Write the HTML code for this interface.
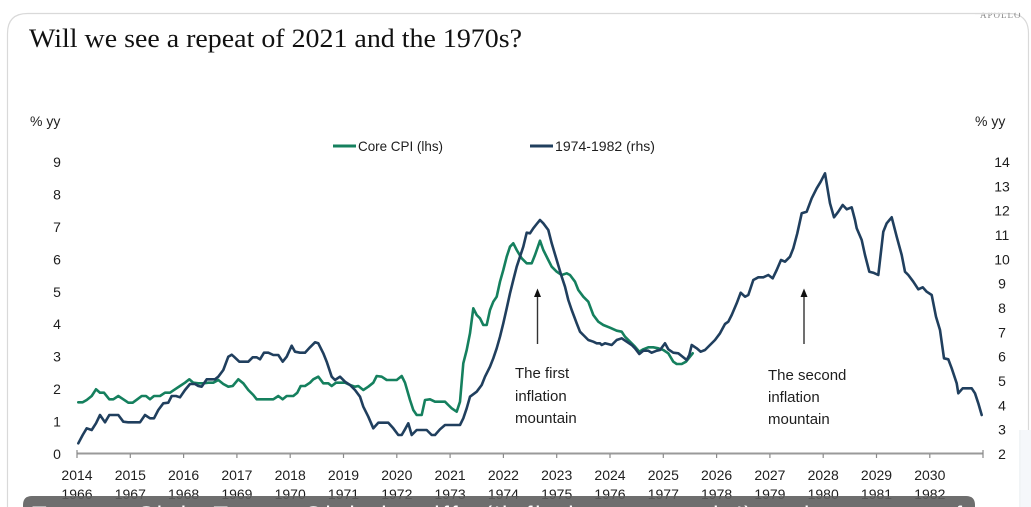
<!DOCTYPE html>
<html>
<head>
<meta charset="utf-8">
<style>
  html,body{margin:0;padding:0;background:#fff;}
  body{width:1031px;height:507px;overflow:hidden;}
  svg{display:block;}
  .ax{font-family:"Liberation Sans",sans-serif;font-size:14px;fill:#1e1e1e;}
  .ann{font-family:"Liberation Sans",sans-serif;font-size:15px;fill:#1e1e1e;}
</style>
</head>
<body>
<svg width="1031" height="507" viewBox="0 0 1031 507" xmlns="http://www.w3.org/2000/svg" overflow="hidden">
  <defs>
    <clipPath id="frame"><rect x="0" y="0" width="1031" height="507"/></clipPath>
  </defs>
  <rect x="0" y="0" width="1031" height="507" fill="#fff"/>
  <!-- card (open at bottom) -->
  <path d="M7.5,507 L7.5,33.5 Q7.5,13.5 27.5,13.5 L1008.5,13.5 Q1028.5,13.5 1028.5,33.5 L1028.5,430" fill="none" stroke="#d9d9d9" stroke-width="1.2"/>
  <line x1="1020" y1="430" x2="1020" y2="507" stroke="#e3e8ee" stroke-width="1"/>
  <rect x="1021" y="430" width="10" height="77" fill="#f5f7fa"/>
  <!-- tiny top-right text -->
  <text x="980" y="18" font-family="Liberation Serif,serif" font-size="9" fill="#8a8a8a" letter-spacing="1">APOLLO</text>
  <rect x="975" y="0" width="56" height="12.8" fill="#fff"/>
  <line x1="975" y1="13.5" x2="1008" y2="13.5" stroke="#d9d9d9" stroke-width="1.2"/>

  <!-- title -->
  <text x="29" y="47" font-family="Liberation Serif,serif" font-size="26" fill="#111" textLength="493" lengthAdjust="spacingAndGlyphs">Will we see a repeat of 2021 and the 1970s?</text>

  <!-- % yy -->
  <text x="30" y="126" class="ax" font-size="13">% yy</text>
  <text x="975" y="126" class="ax" font-size="13">% yy</text>

  <!-- legend -->
  <line x1="333" y1="146" x2="356" y2="146" stroke="#15805e" stroke-width="3"/>
  <text x="358" y="151" class="ax" font-size="13.5" textLength="85" lengthAdjust="spacingAndGlyphs">Core CPI (lhs)</text>
  <line x1="530" y1="146" x2="553" y2="146" stroke="#203f5e" stroke-width="3"/>
  <text x="555" y="151" class="ax" font-size="13.5" textLength="100" lengthAdjust="spacingAndGlyphs">1974-1982 (rhs)</text>

  <!-- left axis labels -->
  <g class="ax" text-anchor="middle">
    <text x="57" y="459">0</text>
    <text x="57" y="426.6">1</text>
    <text x="57" y="394.1">2</text>
    <text x="57" y="361.7">3</text>
    <text x="57" y="329.2">4</text>
    <text x="57" y="296.8">5</text>
    <text x="57" y="264.4">6</text>
    <text x="57" y="231.9">7</text>
    <text x="57" y="199.5">8</text>
    <text x="57" y="167">9</text>
  </g>
  <!-- right axis labels -->
  <g class="ax" text-anchor="middle">
    <text x="1002" y="459">2</text>
    <text x="1002" y="434.7">3</text>
    <text x="1002" y="410.3">4</text>
    <text x="1002" y="386">5</text>
    <text x="1002" y="361.7">6</text>
    <text x="1002" y="337.3">7</text>
    <text x="1002" y="313">8</text>
    <text x="1002" y="288.7">9</text>
    <text x="1002" y="264.3">10</text>
    <text x="1002" y="240">11</text>
    <text x="1002" y="215.7">12</text>
    <text x="1002" y="191.3">13</text>
    <text x="1002" y="167">14</text>
  </g>

  <!-- x axis -->
  <line x1="77" y1="453.5" x2="983" y2="453.5" stroke="#9a9a9a" stroke-width="2"/>
  <g stroke="#8a8a8a" stroke-width="1.2">
    <line x1="77" y1="450" x2="77" y2="458"/>
    <line x1="130.3" y1="454" x2="130.3" y2="458"/>
    <line x1="183.6" y1="454" x2="183.6" y2="458"/>
    <line x1="236.9" y1="454" x2="236.9" y2="458"/>
    <line x1="290.2" y1="454" x2="290.2" y2="458"/>
    <line x1="343.5" y1="454" x2="343.5" y2="458"/>
    <line x1="396.8" y1="454" x2="396.8" y2="458"/>
    <line x1="450.1" y1="454" x2="450.1" y2="458"/>
    <line x1="503.4" y1="454" x2="503.4" y2="458"/>
    <line x1="556.7" y1="454" x2="556.7" y2="458"/>
    <line x1="610" y1="454" x2="610" y2="458"/>
    <line x1="663.3" y1="454" x2="663.3" y2="458"/>
    <line x1="716.6" y1="454" x2="716.6" y2="458"/>
    <line x1="769.9" y1="454" x2="769.9" y2="458"/>
    <line x1="823.2" y1="454" x2="823.2" y2="458"/>
    <line x1="876.5" y1="454" x2="876.5" y2="458"/>
    <line x1="929.8" y1="454" x2="929.8" y2="458"/>
    <line x1="983" y1="450" x2="983" y2="458"/>
  </g>
  <g class="ax" text-anchor="middle">
    <text x="77" y="480">2014</text>
    <text x="130.3" y="480">2015</text>
    <text x="183.6" y="480">2016</text>
    <text x="236.9" y="480">2017</text>
    <text x="290.2" y="480">2018</text>
    <text x="343.5" y="480">2019</text>
    <text x="396.8" y="480">2020</text>
    <text x="450.1" y="480">2021</text>
    <text x="503.4" y="480">2022</text>
    <text x="556.7" y="480">2023</text>
    <text x="610" y="480">2024</text>
    <text x="663.3" y="480">2025</text>
    <text x="716.6" y="480">2026</text>
    <text x="769.9" y="480">2027</text>
    <text x="823.2" y="480">2028</text>
    <text x="876.5" y="480">2029</text>
    <text x="929.8" y="480">2030</text>
  </g>
  <g class="ax" text-anchor="middle">
    <text x="77" y="499">1966</text>
    <text x="130.3" y="499">1967</text>
    <text x="183.6" y="499">1968</text>
    <text x="236.9" y="499">1969</text>
    <text x="290.2" y="499">1970</text>
    <text x="343.5" y="499">1971</text>
    <text x="396.8" y="499">1972</text>
    <text x="450.1" y="499">1973</text>
    <text x="503.4" y="499">1974</text>
    <text x="556.7" y="499">1975</text>
    <text x="610" y="499">1976</text>
    <text x="663.3" y="499">1977</text>
    <text x="716.6" y="499">1978</text>
    <text x="769.9" y="499">1979</text>
    <text x="823.2" y="499">1980</text>
    <text x="876.5" y="499">1981</text>
    <text x="929.8" y="499">1982</text>
  </g>

  <!-- Core CPI -->
  <polyline fill="none" stroke="#15805e" stroke-width="2.6" stroke-linejoin="round" stroke-linecap="round" points="78.3,402.3 82.7,402.3 86.7,400 91.7,396 96,389.3 100,392.7 104,392.7 109.3,399.3 113.3,399.3 118.3,396 123.3,399.3 128.3,402.7 132.7,402.7 137.3,399.3 141.7,396 146,396 150,399.3 154,396 160,396 165,392.7 170,392.7 175,389.3 180,386 185,382.7 189.3,379.3 193.3,382.7 198.3,383.3 203.3,383.3 208.3,382.7 213.3,382.7 218.3,380 223.3,384 228.3,386.7 232.7,386 238.3,379.3 243.3,383.3 248.3,390 253.3,395 256.7,399.3 261.7,399.3 266.7,399.3 273.3,399.3 278.3,396 282.7,399.3 286.7,396 293.3,396 297.3,392.7 300.7,386 305,386 310,382.7 313.3,379.3 318.3,376.7 323.3,383.3 328.3,383.3 331.7,386 336,382.7 340,382.7 345,382.7 350,385 355,386.7 358.3,386 363.3,390 368.3,386.7 373.3,382.7 376.7,376 381.7,376.7 386.7,380 391.7,380 396.7,380 401.7,376 405,382.7 410,400 413.3,410 416.7,415 421.7,415 425,400 430,399.3 435,401.7 440,401.7 445,401.7 448.3,405 451.7,408.3 456.7,411.7 460,401.7 463.3,363.3 466.7,350 470,333.3 473.3,308.3 476.7,315 480,318.3 483.3,325 486.7,325 490,310 493.3,301.7 496.7,296.7 500,281.7 503.3,270 506.7,256.7 510,246.7 513.3,243.3 516.7,250 521.7,258.3 526.7,263.3 531.7,263.3 535,255 540,240.7 543.3,250 548.3,260 551.7,266.7 556.7,271.7 561.7,275 566.7,273.3 570,275 575,281.7 578.3,290 583.3,296.7 588.3,301.7 593.3,315 598.3,321.7 603.3,325 610,327.7 616.7,330.7 621.7,331.7 625,336.7 630,341.7 635,346.7 639.3,351.7 643.3,349.3 648.3,347.3 653.3,347.3 658.3,348.3 663.3,350 668.3,353.3 673.3,361.7 676.7,364 681.7,364 686,361.7 690,356.7 692.7,353.3"/>

  <!-- 1974-1982 -->
  <polyline fill="none" stroke="#203f5e" stroke-width="2.6" stroke-linejoin="round" stroke-linecap="round" points="78.3,443.3 82.7,435 86.7,428.3 91.7,430 96,423.3 100,415 105,422.3 109.3,415 113.3,415 118.3,415 123.3,421.7 128.3,422.3 133.3,422.3 140,422.3 145,415 150,418.3 154,418.3 158.3,410 163.3,403.3 168.3,402.7 171.7,396 176,396 180,397.3 185,390 190,384 195,384 198.3,386 201.7,386.7 206.7,379.3 211.7,379.3 215,379.3 218.3,376.7 223.3,370 228.3,356.7 231.7,354.7 234,356.7 239.3,361.7 245,361.7 248.3,361.7 252.7,357.3 256.7,357.3 260,359.3 264,352.7 268.3,352.7 273.3,355 278.3,355 282.7,361.7 286.7,356.7 291.7,345.7 295,351.7 300,352.7 305,352.7 310,347.3 315,342.3 318.3,343.3 323.3,353.3 326.7,361.7 331.7,376.7 335,380 340,376.7 345,381.7 350,385 355,390 360,396.7 363.3,406.7 368.3,416.7 373.3,428.3 378.3,422.7 383.3,422.7 388.3,422.7 393.3,428.3 398.3,435 401.7,435 405,429.3 408.3,423.3 411.7,435 416.7,430 421.7,430 426.7,430 431.7,435 435,435 440,429.3 445,425 450,425 455,425 460,425 463.3,418.3 466.7,408.3 470,396.7 476.7,391.7 481.7,385 485,376.7 490,366.7 493.3,358.3 496.7,348.3 500,336.7 503.3,323.3 506.7,308.3 510,293.3 513.3,280 516.7,266.7 520,256.7 523.3,246.7 526.7,232.7 530,233.3 533.3,228.3 536.7,224 540,220 543.3,223.3 548.3,230 551.7,243.3 556.7,260 561.7,276.7 565,286.7 568.3,300 571.7,310 576.7,323.3 580,331.7 583.3,335 588.3,340 593.3,341.7 596.7,343.3 600,343.3 601.7,345 605,343.3 611.7,345 616.7,340 621.7,338.3 626.7,341.7 631.7,345 635,348.3 639.3,354 643.3,350.7 648.3,350.7 651.7,352.7 656.7,350.7 660,350 665,343.3 668.3,349.3 673.3,352.7 678.3,353.3 681.7,356 686.7,360 689.3,355 691.7,345 696.7,348.3 700.7,351.7 705,350 710,345 715,340 720,333.3 725,324 728.3,321.7 731.7,315 736.7,303.3 740.7,292.7 745,296.7 748.3,295 753.3,280 758.3,277.3 763.3,277.3 768.3,275 772.7,278.3 776.7,270 781,260 785,261.7 790,256.7 793.3,248.3 797.3,233.3 801.7,213.3 806.7,211.7 811.7,198.3 816.7,188.3 820.7,181.7 825,173.3 828.3,193.3 830,203.3 834,217.3 838.3,211.7 842.7,205 846.7,209.3 851.7,207.3 855,220 856.7,228.3 861.7,240 865,255 869.3,271.7 873.3,272.7 878.3,275 883.3,231.7 886.7,223.3 891.7,217.3 896.7,236.7 901.7,255 905,271.7 908.3,275 913.3,281.7 918.3,289.3 922.7,287.3 926.7,291.7 931.7,295 936,316.7 940,330 944,358.3 948.3,359.3 951.7,368.3 956.7,383.3 958.3,393.3 962.7,388.3 966.7,388.3 971.7,388.3 975,393.3 978.3,403.3 981.7,415"/>

  <!-- annotations -->
  <line x1="537.5" y1="344" x2="537.5" y2="296" stroke="#333" stroke-width="1.4"/>
  <polygon points="537.5,288.5 534,297 541,297" fill="#111"/>
  <text x="515" y="378" class="ann">The first</text>
  <text x="515" y="401" class="ann">inflation</text>
  <text x="515" y="423" class="ann">mountain</text>

  <line x1="804" y1="344" x2="804" y2="296" stroke="#333" stroke-width="1.4"/>
  <polygon points="804,288.5 800.5,297 807.5,297" fill="#111"/>
  <text x="768" y="380" class="ann">The second</text>
  <text x="768" y="402" class="ann">inflation</text>
  <text x="768" y="424" class="ann">mountain</text>

  <!-- bottom overlay (rounded top corners only, ends at frame bottom) -->
  <path d="M23,507 L23,505 Q23,496 32,496 L966,496 Q975,496 975,505 L975,507 Z" fill="#5e5e5e" fill-opacity="0.9"/>
  <g clip-path="url(#frame)">
    <text x="32" y="523" font-family="Liberation Sans,sans-serif" font-size="24" fill="#fff" textLength="930" lengthAdjust="spacing">Torsten Slok: Trump Global tariffs ('inflation mountain') and a repeat of</text>
  </g>
</svg>
</body>
</html>
